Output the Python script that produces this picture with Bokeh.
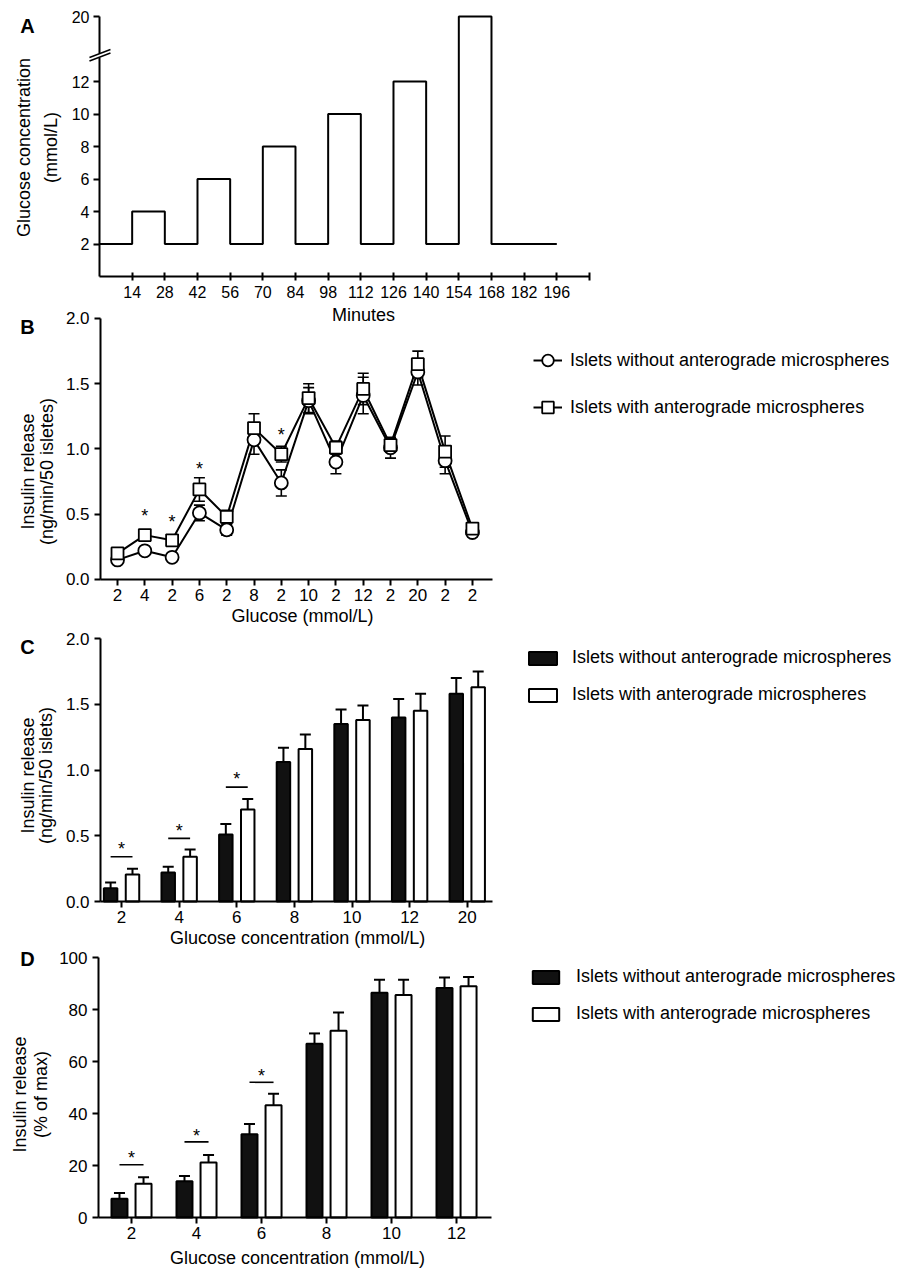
import math
from bokeh.plotting import figure
from bokeh.layouts import column
from bokeh.models import (ColumnDataSource, FixedTicker, PrintfTickFormatter, Whisker, TeeHead,
                          Label, Arrow, Legend, LegendItem, Range1d)
from bokeh.core.properties import value
from bokeh.embed import file_html
from bokeh.resources import INLINE

FONT = "Liberation Sans"
W = 900

# ---------------- data ----------------
# Panel A: perifusion protocol
a_minutes = [0, 14, 28, 42, 56, 70, 84, 98, 112, 126, 140, 154, 168, 182, 196]
a_glucose = [2, 4, 2, 6, 2, 8, 2, 10, 2, 12, 2, 20, 2, 2]
a_xticks = [14, 28, 42, 56, 70, 84, 98, 112, 126, 140, 154, 168, 182, 196, 210]
a_yticks = [2, 4, 6, 8, 10, 12, 20]

# Panel B: dynamic insulin release
b_labels = ["2", "4", "2", "6", "2", "8", "2", "10", "2", "12", "2", "20", "2", "2"]
b_without = [0.15, 0.22, 0.17, 0.51, 0.38, 1.07, 0.74, 1.37, 0.90, 1.41, 1.01, 1.59, 0.91, 0.36]
b_without_err = [0.03, 0.02, 0.02, 0.06, 0.04, 0.11, 0.10, 0.10, 0.09, 0.14, 0.08, 0.10, 0.10, 0.03]
b_with = [0.20, 0.34, 0.30, 0.69, 0.48, 1.16, 0.96, 1.39, 1.01, 1.46, 1.03, 1.65, 0.98, 0.39]
b_with_err = [0.04, 0.03, 0.03, 0.09, 0.05, 0.11, 0.06, 0.11, 0.05, 0.12, 0.05, 0.10, 0.12, 0.03]
b_star_idx = [1, 2, 3, 6]
b_star_y = [0.49, 0.44, 0.85, 1.11]

# Panel C: insulin release per glucose concentration
c_labels = ["2", "4", "6", "8", "10", "12", "20"]
c_without = [0.10, 0.22, 0.51, 1.06, 1.35, 1.40, 1.58]
c_without_err = [0.045, 0.045, 0.08, 0.11, 0.11, 0.14, 0.12]
c_with = [0.205, 0.34, 0.70, 1.16, 1.38, 1.45, 1.63]
c_with_err = [0.045, 0.055, 0.08, 0.11, 0.11, 0.13, 0.12]
c_sig_idx = [0, 1, 2]
c_sig_y = [0.34, 0.48, 0.87]
c_star_y = [0.40, 0.535, 0.93]

# Panel D: insulin release, % of max
d_labels = ["2", "4", "6", "8", "10", "12"]
d_without = [7.2, 14.0, 32.0, 66.8, 86.4, 88.3]
d_without_err = [2.2, 2.0, 4.0, 4.0, 5.0, 4.0]
d_with = [13.0, 21.2, 43.2, 71.8, 85.6, 88.9]
d_with_err = [2.5, 2.8, 4.4, 7.0, 5.8, 3.6]
d_sig_idx = [0, 1, 2]
d_sig_y = [20.3, 29.1, 52.0]
d_star_y = [22.9, 31.5, 54.5]

LBL0 = "Islets without anterograde microspheres"
LBL1 = "Islets with anterograde microspheres"


def a_disp(v):
    # broken y axis: values above the break are drawn at the top level
    return 16 if v > 12 else v


def make_fig(height, xr, yr):
    p = figure(width=W, height=height, x_range=Range1d(*xr), y_range=Range1d(*yr),
               output_backend="svg", toolbar_location=None,
               min_border_left=0, min_border_right=0, min_border_top=0, min_border_bottom=0)
    p.outline_line_color = None
    p.grid.visible = False
    p.background_fill_color = "white"
    p.border_fill_color = "white"
    return p


def style_axes(p, xloc, yloc, xbounds, ybounds, tick_size="17px"):
    for ax in (p.xaxis[0], p.yaxis[0]):
        ax.axis_line_color = "black"
        ax.axis_line_width = 2
        ax.major_tick_line_color = "black"
        ax.major_tick_line_width = 2
        ax.major_tick_in = 0
        ax.major_tick_out = 6
        ax.minor_tick_line_color = None
        ax.major_label_text_font = FONT
        ax.major_label_text_font_size = tick_size
        ax.major_label_text_color = "black"
        ax.major_label_standoff = 5
    p.xaxis[0].fixed_location = xloc
    p.yaxis[0].fixed_location = yloc
    p.xaxis[0].bounds = xbounds
    p.yaxis[0].bounds = ybounds
    p.xaxis[0].major_label_standoff = 4


def text_label(p, x, y, t, size="18px", bold=False, angle=0.0):
    p.add_layout(Label(x=x, y=y, text=t, text_font=FONT, text_font_size=size,
                       text_font_style="bold" if bold else "normal", angle=angle,
                       text_align="center", text_baseline="middle", text_color="black"))


def legend(p, items, loc, gw, gh, standoff, spacing, lh):
    lg = Legend(items=items, location=loc, orientation="vertical", glyph_width=gw, glyph_height=gh,
                label_standoff=standoff, spacing=spacing, padding=0, margin=0, label_height=lh,
                border_line_alpha=0, background_fill_alpha=0,
                label_text_font=FONT, label_text_font_size="18px", label_text_color="black")
    p.add_layout(lg)


V = math.pi / 2

# ---------------- Panel A ----------------
pA = make_fig(304, (-42.43, 343.3), (-1.723, 16.985))
a_y = [a_disp(v) for v in a_glucose] + [a_disp(a_glucose[-1])]
pA.step(a_minutes, a_y, mode="after", line_color="black", line_width=2)
style_axes(pA, 0, 0, (0, 210), (0, 16), "16px")
xa, ya = pA.xaxis[0], pA.yaxis[0]
xa.ticker = FixedTicker(ticks=a_xticks)
xa.major_label_overrides = {210: ""}
xa.major_tick_in = 4
xa.major_tick_out = 4
xa.major_label_standoff = 5
ya.ticker = FixedTicker(ticks=[a_disp(v) for v in a_yticks])
ya.major_label_overrides = {16: "20"}
ya.major_label_standoff = 4
# axis break marks
pA.add_layout(Arrow(x_start=0, y_start=13.47, x_end=0, y_end=13.73, end=None,
                    line_color="white", line_width=4))
pA.add_layout(Arrow(x_start=-4.3, y_start=13.48, x_end=4.7, y_end=13.97, end=None,
                    line_color="black", line_width=1.5))
pA.add_layout(Arrow(x_start=-4.3, y_start=13.26, x_end=4.7, y_end=13.75, end=None,
                    line_color="black", line_width=1.5))
text_label(pA, -30.9, 15.4, "A", "20px", True)
text_label(pA, -32.15, 7.94, "Glucose concentration", angle=V)
text_label(pA, -21.0, 7.94, "(mmol/L)", angle=V)

# ---------------- Panel B ----------------
b_x = list(range(len(b_labels)))
pB = make_fig(323, (-4.286, 28.68), (-0.3678, 2.107))
src_b0 = ColumnDataSource(dict(x=b_x, y=b_without,
                               lo=[v - e for v, e in zip(b_without, b_without_err)],
                               hi=[v + e for v, e in zip(b_without, b_without_err)]))
src_b1 = ColumnDataSource(dict(x=b_x, y=b_with,
                               lo=[v - e for v, e in zip(b_with, b_with_err)],
                               hi=[v + e for v, e in zip(b_with, b_with_err)]))
for s in (src_b0, src_b1):
    pB.add_layout(Whisker(source=s, base="x", lower="lo", upper="hi", dimension="height",
                          line_color="black", line_width=1.6, level="underlay",
                          upper_head=TeeHead(size=11, line_color="black", line_width=1.6),
                          lower_head=TeeHead(size=11, line_color="black", line_width=1.6)))
rl0 = pB.line("x", "y", source=src_b0, line_color="black", line_width=2)
rl1 = pB.line("x", "y", source=src_b1, line_color="black", line_width=2)
rs0 = pB.scatter("x", "y", source=src_b0, marker="circle", size=13, fill_color="white",
                 line_color="black", line_width=1.8)
rs1 = pB.scatter("x", "y", source=src_b1, marker="square", size=12, fill_color="white",
                 line_color="black", line_width=1.8)
pB.text(x=b_star_idx, y=b_star_y, text=["*"] * len(b_star_idx), text_font=value(FONT),
        text_font_size="18px", text_align="center", text_baseline="middle", text_color="black")
style_axes(pB, 0, -0.6227, (-0.6227, 13.73), (0, 2))
xb, yb = pB.xaxis[0], pB.yaxis[0]
xb.ticker = FixedTicker(ticks=b_x)
xb.major_label_overrides = {i: t for i, t in zip(b_x, b_labels)}
yb.ticker = FixedTicker(ticks=[0, 0.5, 1.0, 1.5, 2.0])
yb.formatter = PrintfTickFormatter(format="%.1f")
legend(pB, [LegendItem(label=LBL0, renderers=[rl0, rs0]),
            LegendItem(label=LBL1, renderers=[rl1, rs1])],
       (533, 205), 29, 30, 8, 17, 30)
text_label(pB, 9.01, 2.023, "Minutes")
text_label(pB, 6.777, -0.2835, "Glucose (mmol/L)")
text_label(pB, -3.30, 1.931, "B", "20px", True)
text_label(pB, -3.297, 0.828, "Insulin release", angle=V)
text_label(pB, -2.60, 0.828, "(ng/min/50 isletes)", angle=V)


# ---------------- bar panels ----------------
def bar_panel(height, xr, yr, labels, v0, e0, v1, e1, off, bw, sig_idx, sig_y, star_y,
              yticks, fmt, yloc, bounds_x, bounds_y, leg_loc, gw, gh, gstand, gspace):
    p = make_fig(height, xr, yr)
    xs = list(range(len(labels)))
    s0 = ColumnDataSource(dict(x=[i - off for i in xs], top=v0, lo=v0,
                               hi=[v + e for v, e in zip(v0, e0)]))
    s1 = ColumnDataSource(dict(x=[i + off for i in xs], top=v1, lo=v1,
                               hi=[v + e for v, e in zip(v1, e1)]))
    for s in (s0, s1):
        p.add_layout(Whisker(source=s, base="x", lower="lo", upper="hi", dimension="height",
                             line_color="black", line_width=2, lower_head=None,
                             upper_head=TeeHead(size=11, line_color="black", line_width=2)))
    r0 = p.vbar(x="x", top="top", bottom=0, width=bw, source=s0, fill_color="#111111",
                line_color="black", line_width=2)
    r1 = p.vbar(x="x", top="top", bottom=0, width=bw, source=s1, fill_color="white",
                line_color="black", line_width=2)
    p.segment(x0=[i - off for i in sig_idx], x1=[i + off for i in sig_idx], y0=sig_y, y1=sig_y,
              line_color="black", line_width=1.6)
    p.text(x=sig_idx, y=star_y, text=["*"] * len(sig_idx), text_font=value(FONT),
           text_font_size="18px", text_align="center", text_baseline="middle", text_color="black")
    style_axes(p, 0, yloc, bounds_x, bounds_y)
    xax, yax = p.xaxis[0], p.yaxis[0]
    xax.ticker = FixedTicker(ticks=xs)
    xax.major_label_overrides = {i: t for i, t in zip(xs, labels)}
    xax.major_label_standoff = 3
    yax.ticker = FixedTicker(ticks=yticks)
    if fmt:
        yax.formatter = PrintfTickFormatter(format=fmt)
    legend(p, [LegendItem(label=LBL0, renderers=[r0]), LegendItem(label=LBL1, renderers=[r1])],
           leg_loc, gw, gh, gstand, gspace, 16)
    return p


pC = bar_panel(321, (-2.101, 13.52), (-0.3574, 2.0837), c_labels, c_without, c_without_err,
               c_with, c_with_err, 0.19, 0.234, c_sig_idx, c_sig_y, c_star_y,
               [0, 0.5, 1.0, 1.5, 2.0], "%.1f", -0.3646,
               (-0.3646, 6.44), (0, 2), (525, 243), 35, 16, 12, 16)
text_label(pC, 3.056, -0.2738, "Glucose concentration (mmol/L)")
text_label(pC, -1.632, 1.939, "C", "20px", True)
text_label(pC, -1.632, 0.958, "Insulin release", angle=V)
text_label(pC, -1.319, 0.958, "(ng/min/50 islets)", angle=V)

pD = bar_panel(320, (-2.0154, 11.83), (-19.6, 103.46), d_labels, d_without, d_without_err,
               d_with, d_with_err, 0.185, 0.246, d_sig_idx, d_sig_y, d_star_y,
               [0, 20, 40, 60, 80, 100], None, -0.5077,
               (-0.5077, 5.54), (0, 100), (529, 244), 33, 16, 14, 16)
text_label(pD, 2.554, -15.4, "Glucose concentration (mmol/L)")
text_label(pD, -1.6, 99.6, "D", "20px", True)
text_label(pD, -1.708, 47.3, "Insulin release", angle=V)
text_label(pD, -1.40, 47.3, "(% of max)", angle=V)

layout = column(pA, pB, pC, pD, spacing=0)
open("out.html", "w").write(file_html(layout, INLINE, "Insulin release"))
